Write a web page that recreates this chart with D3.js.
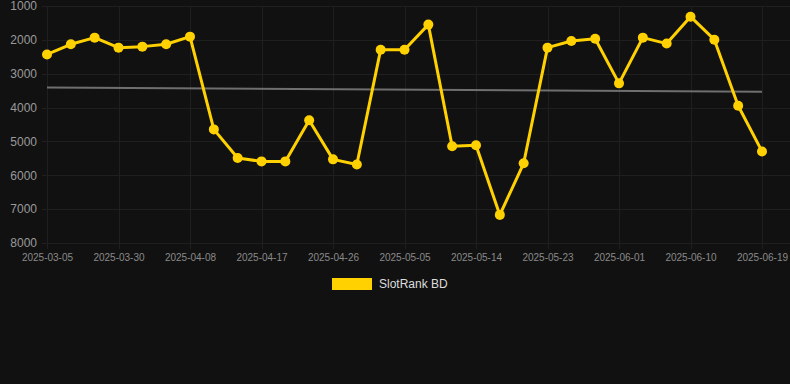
<!DOCTYPE html>
<html>
<head>
<meta charset="utf-8">
<script src="https://cdn.jsdelivr.net/npm/d3@7"></script>
<style>
  html, body { margin: 0; padding: 0; background: #111111; }
  #chart { width: 790px; height: 384px; }
  text { font-family: "Liberation Sans", Arial, sans-serif; }
</style>
</head>
<body>
<div id="chart"></div>
<script>
// category labels (only every third one is shown on the axis)
const dates = [
    "2025-03-05", "2025-03-13", "2025-03-22", "2025-03-30", "2025-04-02", "2025-04-05",
    "2025-04-08", "2025-04-11", "2025-04-14", "2025-04-17", "2025-04-20", "2025-04-23",
    "2025-04-26", "2025-04-29", "2025-05-02", "2025-05-05", "2025-05-08", "2025-05-11",
    "2025-05-14", "2025-05-17", "2025-05-20", "2025-05-23", "2025-05-26", "2025-05-29",
    "2025-06-01", "2025-06-04", "2025-06-07", "2025-06-10", "2025-06-13", "2025-06-16",
    "2025-06-19"
];

// SlotRank BD values
const ranks = [
    2430, 2130, 1935, 2230, 2200, 2130, 1905, 4645, 5490, 5590, 5590, 4375,
    5530, 5680, 2290, 2290, 1550, 5145, 5115, 7170, 5645, 2230, 2035, 1965,
    3285, 1935, 2110, 1315, 1995, 3945, 5295
];

// trend line end values
const trend = [3410, 3530];

const yTicks = [1000, 2000, 3000, 4000, 5000, 6000, 7000, 8000];
const seriesName = "SlotRank BD";

const width = 790;
const height = 384;
const marginTop = 6;
const marginLeft = 47;
const marginRight = 28;
const plotBottom = 243;

const svg = d3.select("#chart").append("svg")
    .attr("width", width)
    .attr("height", height)
    .attr("viewBox", [0, 0, width, height]);

svg.append("rect")
    .attr("width", width)
    .attr("height", height)
    .attr("fill", "#111111");

const x = d3.scalePoint()
    .domain(dates)
    .range([marginLeft, width - marginRight]);

const y = d3.scaleLinear()
    .domain([1000, 8000])
    .range([marginTop, plotBottom]);

const shownDates = dates.filter((d, i) => i % 3 === 0);

// grid
svg.append("g")
    .attr("stroke", "#1f1f1f")
    .attr("stroke-width", 1)
    .call(g => g.selectAll("line.h")
        .data(yTicks)
        .join("line")
        .attr("class", "h")
        .attr("x1", 42)
        .attr("x2", width)
        .attr("y1", d => Math.round(y(d)) + 0.5)
        .attr("y2", d => Math.round(y(d)) + 0.5))
    .call(g => g.selectAll("line.v")
        .data(shownDates)
        .join("line")
        .attr("class", "v")
        .attr("x1", d => Math.round(x(d)) + 0.5)
        .attr("x2", d => Math.round(x(d)) + 0.5)
        .attr("y1", marginTop)
        .attr("y2", plotBottom + 6));

// y axis labels
svg.append("g")
    .attr("transform", "translate(37,0)")
    .call(d3.axisLeft(y).tickValues(yTicks).tickFormat(d3.format("d")).tickSize(0).tickPadding(0))
    .call(g => g.select(".domain").remove())
    .call(g => g.selectAll("text")
        .attr("fill", "#9a9a9a")
        .attr("font-size", 12)
        .attr("font-family", "Liberation Sans, Arial, sans-serif"));

// x axis labels
svg.append("g")
    .attr("transform", `translate(0,${plotBottom + 11})`)
    .call(d3.axisBottom(x).tickValues(shownDates).tickSize(0).tickPadding(0))
    .call(g => g.select(".domain").remove())
    .call(g => g.selectAll("text")
        .attr("fill", "#8a8a8a")
        .attr("font-size", 10)
        .attr("font-family", "Liberation Sans, Arial, sans-serif"));

// trend line
svg.append("line")
    .attr("x1", x(dates[0]))
    .attr("x2", x(dates[dates.length - 1]))
    .attr("y1", y(trend[0]))
    .attr("y2", y(trend[1]))
    .attr("stroke", "#6f6f6f")
    .attr("stroke-width", 2);

// series line
const line = d3.line()
    .x((d, i) => x(dates[i]))
    .y(d => y(d));

svg.append("path")
    .datum(ranks)
    .attr("fill", "none")
    .attr("stroke", "#FFD100")
    .attr("stroke-width", 3)
    .attr("stroke-linejoin", "round")
    .attr("d", line);

svg.append("g")
    .selectAll("circle")
    .data(ranks)
    .join("circle")
    .attr("cx", (d, i) => x(dates[i]))
    .attr("cy", d => y(d))
    .attr("r", 5)
    .attr("fill", "#FFD100");

// legend
const legend = svg.append("g");

legend.append("rect")
    .attr("x", 332)
    .attr("y", 278)
    .attr("width", 40)
    .attr("height", 12)
    .attr("fill", "#FFD100");

legend.append("text")
    .attr("x", 379)
    .attr("y", 284)
    .attr("dy", "0.35em")
    .attr("fill", "#dddddd")
    .attr("font-size", 12)
    .text(seriesName);
</script>
</body>
</html>
